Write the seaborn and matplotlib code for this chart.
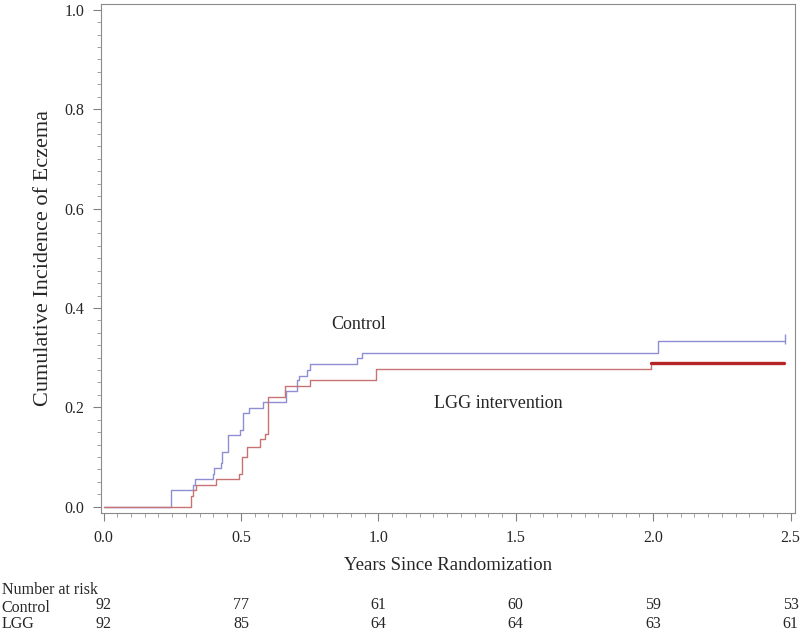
import matplotlib
matplotlib.use("Agg")
from matplotlib import pyplot as plt
from matplotlib.ticker import MultipleLocator
from matplotlib.transforms import blended_transform_factory
import pandas as pd
import seaborn as sns

# step curves (years, cumulative incidence)
ctrl_time = [0, 0.244, 0.247, 0.327, 0.331, 0.397, 0.401, 0.427, 0.431, 0.454, 0.496,
             0.508, 0.529, 0.579, 0.663, 0.703, 0.711, 0.741, 0.751, 0.923, 0.939, 2.017, 2.48]
ctrl_cum = [0, 0.022, 0.033, 0.044, 0.055, 0.066, 0.077, 0.088, 0.111, 0.145, 0.155,
            0.188, 0.199, 0.211, 0.233, 0.254, 0.264, 0.276, 0.287, 0.299, 0.309, 0.333, 0.333]
lgg_time = [0, 0.318, 0.326, 0.336, 0.411, 0.493, 0.503, 0.521, 0.569, 0.587, 0.597,
            0.66, 0.751, 0.993, 1.993, 2.475]
lgg_cum = [0, 0.022, 0.033, 0.044, 0.056, 0.066, 0.100, 0.121, 0.137, 0.146, 0.221,
           0.243, 0.254, 0.278, 0.290, 0.290]

risk_times = [0, 0.5, 1.0, 1.5, 2.0, 2.5]
risk_ctrl = [92, 77, 61, 60, 59, 53]
risk_lgg = [92, 85, 64, 64, 63, 61]

sns.set_style("white")
plt.rcParams['font.family'] = ['Liberation Serif', 'DejaVu Serif']

df = pd.concat([
    pd.DataFrame({'time': ctrl_time, 'cum': ctrl_cum, 'group': 'Control'}),
    pd.DataFrame({'time': lgg_time, 'cum': lgg_cum, 'group': 'LGG'}),
])
palette = {'Control': '#8e8ed2', 'LGG': '#c77373'}

fig = plt.figure(figsize=(8.02, 6.32), dpi=100)
ax = fig.add_axes([0.126, 0.188, 0.865, 0.806])

sns.lineplot(data=df, x='time', y='cum', hue='group', palette=palette,
             drawstyle='steps-post', linewidth=1.0, legend=False, ax=ax,
             estimator=None, sort=False)
# thick tail of the LGG curve after the last event
tail = pd.DataFrame({'time': lgg_time[-2:], 'cum': lgg_cum[-2:]})
sns.lineplot(data=tail, x='time', y='cum', color='#b52525', linewidth=2.4,
             drawstyle='steps-post', ax=ax, estimator=None)
# censor mark at end of control
ax.plot([ctrl_time[-1]], [ctrl_cum[-1] + 0.005], marker='|', markersize=7,
        color=palette['Control'], markeredgewidth=1.0)

ax.text(0.929, 0.366, 'Control', fontsize=13, ha='center', va='center')
ax.text(1.438, 0.207, 'LGG intervention', fontsize=13, ha='center', va='center')

ax.set_xlim(-0.009, 2.515)
ax.set_ylim(-0.013, 1.012)
ax.xaxis.set_major_locator(MultipleLocator(0.5))
ax.xaxis.set_minor_locator(MultipleLocator(0.05))
ax.yaxis.set_major_locator(MultipleLocator(0.2))
ax.yaxis.set_minor_locator(MultipleLocator(0.025))
ax.xaxis.set_major_formatter(matplotlib.ticker.FormatStrFormatter('%.1f'))
ax.yaxis.set_major_formatter(matplotlib.ticker.FormatStrFormatter('%.1f'))
ax.tick_params(which='major', direction='out', length=6, width=0.8, color='#808080',
               labelsize=11.5, pad=6, bottom=True, left=True)
ax.tick_params(which='minor', direction='out', length=3, width=0.6, color='#909090',
               bottom=True, left=True)
for s in ax.spines.values():
    s.set_color('#8a8a8a')
    s.set_linewidth(0.8)

ax.set_xlabel('Years Since Randomization', fontsize=13.5, labelpad=8)
ax.set_ylabel('Cumulative Incidence of Eczema', fontsize=16, labelpad=8)

# number at risk table
tr = blended_transform_factory(ax.transData, fig.transFigure)
fig.text(0.002, 0.066, 'Number at risk', fontsize=11.5, va='center', ha='left')
fig.text(0.002, 0.038, 'Control', fontsize=11.5, va='center', ha='left')
fig.text(0.002, 0.012, 'LGG', fontsize=11.5, va='center', ha='left')
for t, c, l in zip(risk_times, risk_ctrl, risk_lgg):
    ax.text(t, 0.042, str(c), transform=tr, fontsize=11.5, ha='center', va='center')
    ax.text(t, 0.012, str(l), transform=tr, fontsize=11.5, ha='center', va='center')

fig.savefig('out.png', dpi=100)
